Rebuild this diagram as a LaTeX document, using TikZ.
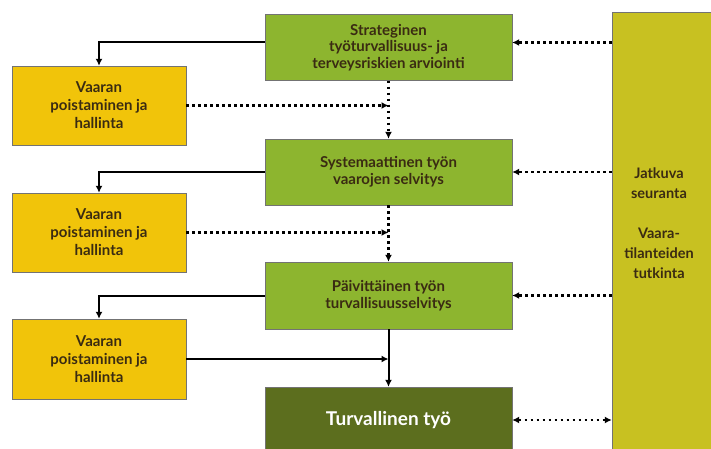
\documentclass[tikz,border=0pt]{standalone}
\usepackage{fontspec}
\setmainfont{Lato}
\usepackage{color}
\usetikzlibrary{arrows.meta,positioning}
\tikzset{>={Latex[length=7pt,width=7pt]}}

\definecolor{stepgreen}{HTML}{8DB52F}
\definecolor{hazardyellow}{HTML}{F1C40A}
\definecolor{safegreen}{HTML}{5C6E1E}
\definecolor{monitorolive}{HTML}{C8C121}
\definecolor{textbrown}{HTML}{3A2B12}

\tikzset{
  greenbox/.style={draw=black!55,fill=stepgreen,minimum width=247pt,minimum height=66pt,inner sep=0pt,align=center,text=textbrown,font=\bfseries\fontsize{15}{16.5}\selectfont},
  yellowbox/.style={draw=black!55,fill=hazardyellow,minimum width=174pt,minimum height=79pt,inner sep=0pt,align=center,text=textbrown,font=\bfseries\fontsize{15}{18}\selectfont},
  solidline/.style={line width=2pt},
  dotline/.style={line width=2.5pt,dash pattern=on 2.5pt off 3.5pt}
}

\begin{document}
\begin{tikzpicture}[x=1pt,y=-1pt]
\clip (0,0) rectangle (711,449);
\fill[white] (0,0) rectangle (711,449);

\newcommand{\colx}{388.5}

%%% Monitoring column
\node[draw=black!55,fill=monitorolive,minimum width=118pt,minimum height=448pt,inner sep=0pt] (R) at (671,236) {};
\node[align=center,text=textbrown,font=\bfseries\fontsize{14.5}{20}\selectfont] (Rtext) at (659,223) {Jatkuva\\seuranta\\[20pt]Vaara-\\tilanteiden\\tutkinta};

%%% Main steps
\node[greenbox] (g1) at (\colx,47.5) {Strateginen\\työturvallisuus- ja\\terveysriskien arviointi};
\node[greenbox] (g2) at (\colx,172) {Systemaattinen työn\\vaarojen selvitys};
\node[greenbox,minimum height=67pt] (g3) at (\colx,295.5) {Päivittäinen työn\\turvallisuusselvitys};
\node[greenbox,fill=safegreen,text=white,font=\bfseries\fontsize{19}{20}\selectfont] (g4) at (\colx,420) {Turvallinen työ};

%%% Hazard control boxes
\node[yellowbox] (y1) at (99,105.5) {Vaaran\\poistaminen ja\\hallinta};
\node[yellowbox] (y2) at (99,232.5) {Vaaran\\poistaminen ja\\hallinta};
\node[yellowbox,minimum height=80pt] (y3) at (99,359) {Vaaran\\poistaminen ja\\hallinta};

%%% Solid arrows
\draw[solidline,->] ([yshift=5pt]g1.west) -| (y1.north);
\draw[solidline,->] (g2.west) -| (y2.north);
\draw[solidline,->] (g3.west) -| (y3.north);
\draw[solidline,->] (g3.south) -- (g4.north);
\draw[solidline,->] (y3.east) -- (y3.east -| g3.south);

%%% Dotted arrows
\draw[dotline,->] (g1.south) -- (g2.north);
\draw[dotline,->] (g2.south) -- (g3.north);
\draw[dotline,->] (y1.east) -- (y1.east -| g1.south);
\draw[dotline,->] (y2.east) -- (y2.east -| g2.south);

\draw[dotline,->] ([yshift=5pt]R.west |- g1.east) -- ([yshift=5pt]g1.east);
\draw[dotline,->] (R.west |- g2.east) -- (g2.east);
\draw[dotline,->] (R.west |- g3.east) -- (g3.east);
\draw[dotline,<->] (g4.east) -- (R.west |- g4.east);

\end{tikzpicture}
\end{document}
